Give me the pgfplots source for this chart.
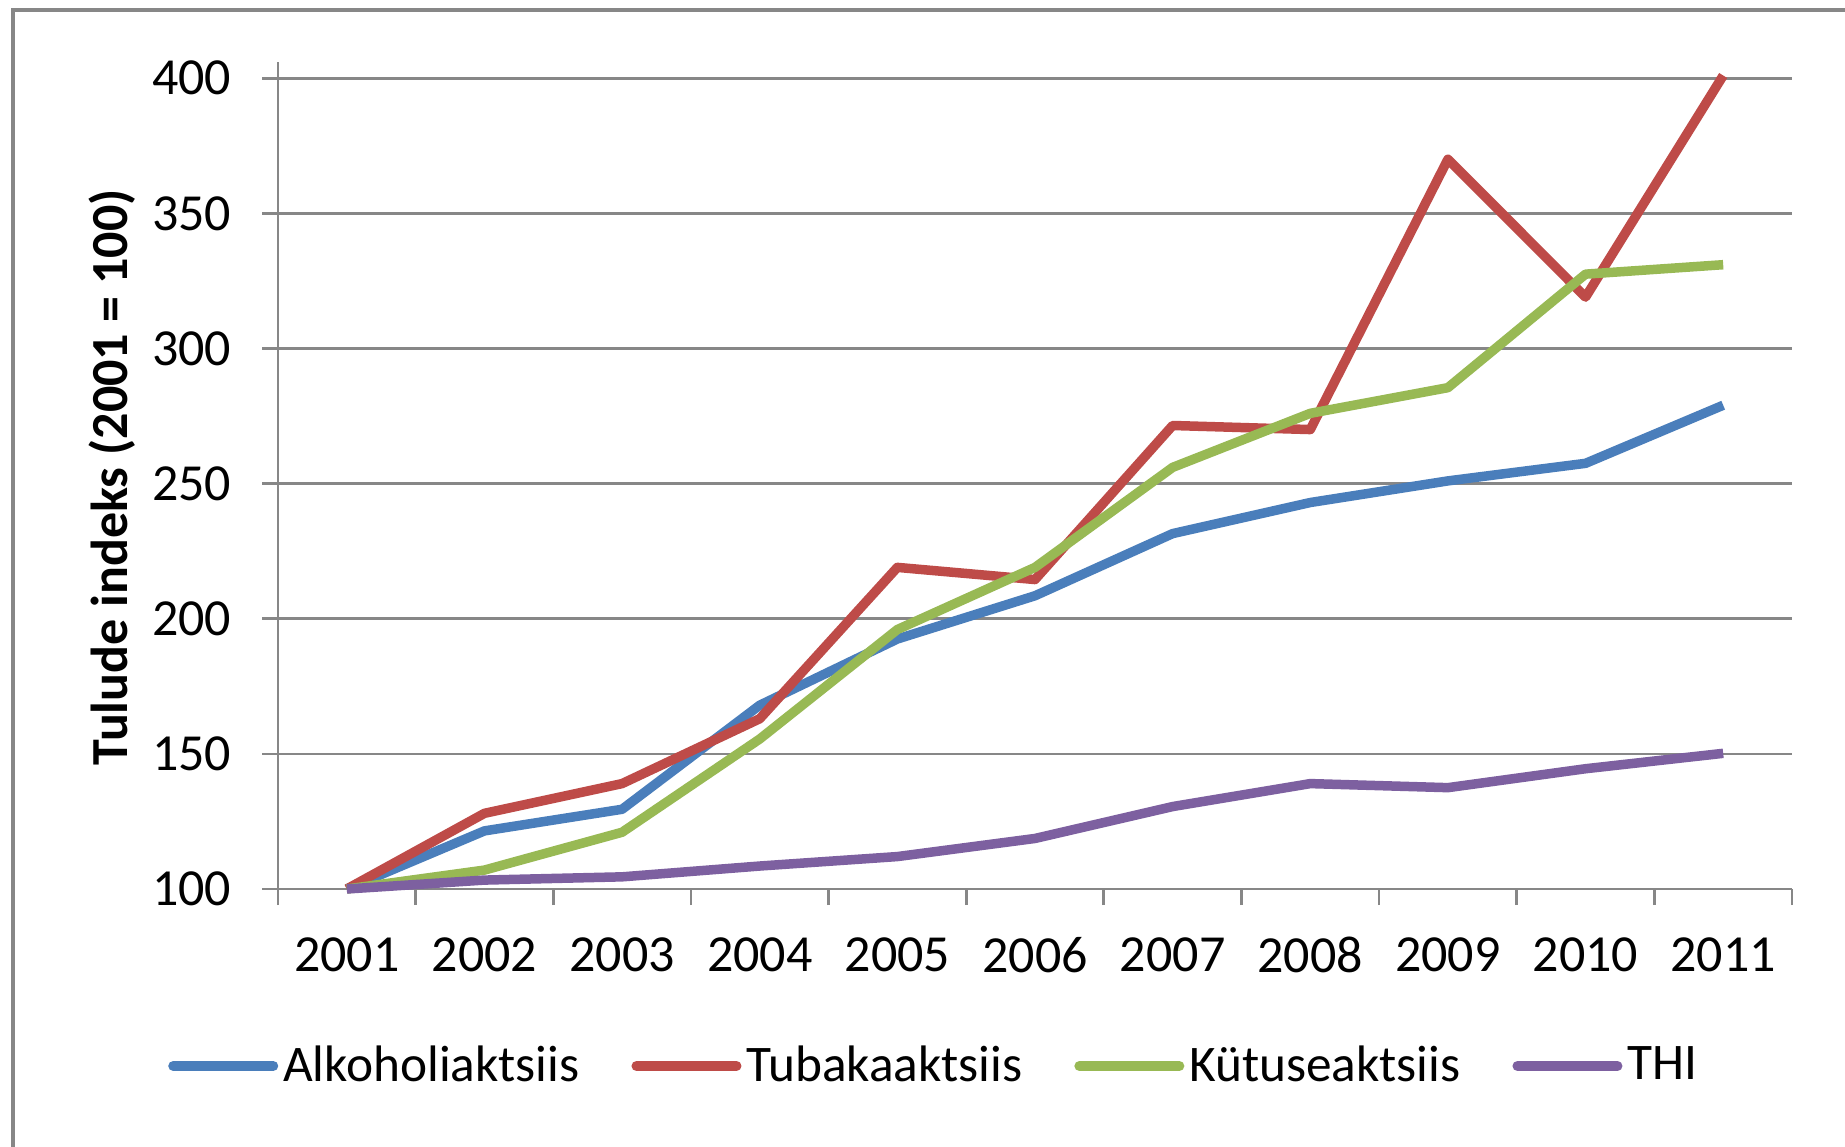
\documentclass[border=0pt]{standalone}
\usepackage{fontspec}
\setmainfont{Carlito}
\usepackage{pgfplots}
\pgfplotsset{compat=1.18}
\definecolor{cblue}{HTML}{4A7EBB}
\definecolor{cred}{HTML}{BE4B48}
\definecolor{cgreen}{HTML}{98B954}
\definecolor{cpurple}{HTML}{7D60A0}
\definecolor{axgray}{HTML}{878787}
\begin{document}
\begin{tikzpicture}[x=1cm,y=1cm]
\useasboundingbox (0,0) rectangle (18.45,11.46);
\draw[axgray, line width=0.04cm] (0.13,-0.1) -- (0.13,11.36) -- (18.6,11.36);
\begin{axis}[
  at={(2.78cm,2.57cm)}, anchor=south west,
  scale only axis, width=15.14cm, height=8.27cm,
  xmin=-0.5, xmax=10.5, ymin=100, ymax=406,
  axis x line*=bottom, axis y line*=left,
  axis line style={axgray, line width=0.027cm, -},
  ytick={100,150,...,400},
  xtick={-0.5,0.5,...,10.5}, xticklabels={},
  extra x ticks={0,1,...,10},
  extra x tick labels={2001,2002,2003,2004,2005,2006,2007,2008,2009,2010,2011},
  extra x tick style={tick style={draw=none}},
  tick align=outside, major tick length=0.16cm,
  tick style={axgray, line width=0.027cm},
  ymajorgrids, grid style={axgray, line width=0.027cm},
  /pgf/number format/assume math mode=true,
  /pgf/number format/1000 sep={},
  tick label style={font=\fontsize{14.8pt}{17pt}\selectfont, text=black},
  yticklabel style={anchor=east, inner sep=0pt, xshift=-0.30cm},
  xticklabel style={anchor=center, inner sep=0pt, yshift=-0.50cm},
  ylabel={Tulude indeks (2001 = 100)},
  ylabel style={at={(axis description cs:-0.1096,0.498)}, anchor=center, font=\bfseries\fontsize{14.8pt}{17pt}\selectfont},
  legend columns=4,
  legend style={at={(axis description cs:-0.0725,-0.214)}, anchor=west, draw=none, fill=none,
    inner sep=0pt, outer sep=0pt, font=\fontsize{14.6pt}{17pt}\selectfont,
    nodes={inner sep=0pt},
    /tikz/every odd column/.style={column sep=0.05cm},
    /tikz/every even column/.style={column sep=0.52cm}},
  legend image code/.code={\draw[#1, line cap=round, line width=0.1cm] (0cm,0cm) -- (1.0cm,0cm);},
  every axis plot/.append style={line width=0.095cm, line join=round, no markers},
  clip=false,
]
\addplot[cblue] coordinates {(0,100) (1,121.5) (2,129.5) (3,168) (4,192.5) (5,208.5) (6,231.5) (7,243) (8,251) (9,257.5) (10,279)};
\addlegendentry{Alkoholiaktsiis}
\addplot[cred] coordinates {(0,100) (1,128) (2,139) (3,163) (4,219) (5,214.5) (6,271.5) (7,270) (8,370) (9,319) (10,401)};
\addlegendentry{Tubakaaktsiis}
\addplot[cgreen] coordinates {(0,100) (1,107) (2,121) (3,155.5) (4,196) (5,219) (6,256) (7,276) (8,285.5) (9,327.5) (10,331)};
\addlegendentry{Kütuseaktsiis}
\addplot[cpurple] coordinates {(0,100) (1,103.3) (2,104.5) (3,108.5) (4,112) (5,118.7) (6,130.5) (7,139) (8,137.5) (9,144.5) (10,150.2)};
\addlegendentry{THI}
\end{axis}
\end{tikzpicture}
\end{document}
